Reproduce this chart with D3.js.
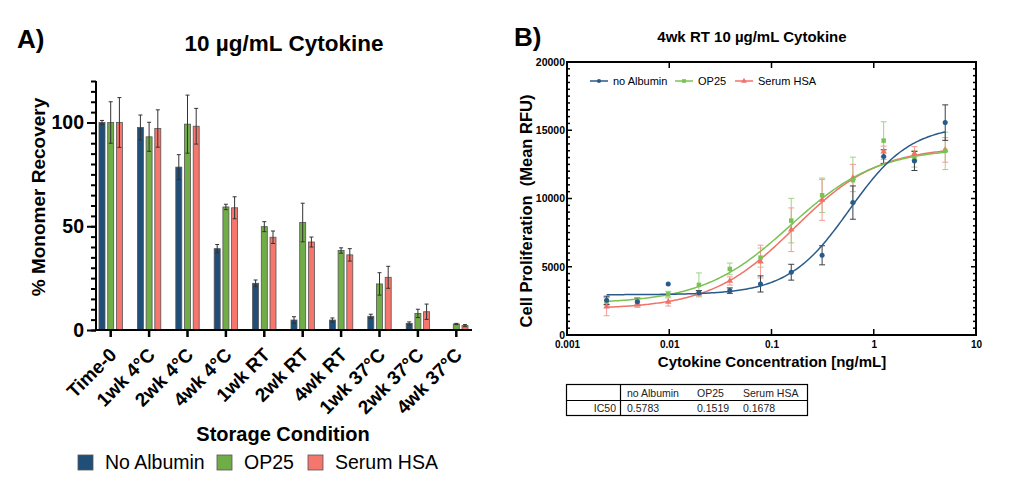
<!DOCTYPE html>
<html>
<head>
<meta charset="utf-8">
<script src="https://cdn.jsdelivr.net/npm/d3@7"></script>
<style>
  html, body { margin: 0; padding: 0; background: #fff; }
  svg { display: block; font-family: Arial, "Liberation Sans", sans-serif; }
</style>
</head>
<body>
<svg id="chart" width="1024" height="499"></svg>
<script>
// ---------- Panel A data ----------
const categories = ["Time-0","1wk 4°C","2wk 4°C","4wk 4°C","1wk RT","2wk RT","4wk RT","1wk 37°C","2wk 37°C","4wk 37°C"];
const seriesNames = ["No Albumin","OP25","Serum HSA"];
const noAlbumin    = [100, 97.6, 78.5, 39.2, 22.5, 4.8, 4.8, 6.6, 3.2, null];
const noAlbuminErr = [1, 6, 6, 2, 1.6, 1.6, 1, 1, 0.7, 0];
const op25         = [100, 93.1, 99.2, 59.3, 49.8, 51.8, 38.3, 22.2, 8.0, 2.9];
const op25Err      = [10, 7, 14, 1.3, 2.4, 9.3, 1.3, 5.4, 2, 0.3];
const serumHSA     = [100, 97.1, 98.2, 58.9, 44.7, 42.4, 36.2, 25.4, 8.8, 2.1];
const serumHSAErr  = [12, 9, 8.6, 5.3, 3, 2.4, 3, 5.3, 3.7, 0.5];
const yTicksA = [0, 50, 100];

// ---------- Panel B data ----------
const concentration = [0.00244, 0.00488, 0.00977, 0.0195, 0.0391, 0.0781, 0.156, 0.3125, 0.625, 1.25, 2.5, 5];
const lineNames = ["no Albumin","OP25","Serum HSA"];
const rfuNoAlbumin    = [2540, 2440, 3740, 3100, 3250, 3740, 4600, 5840, 9700, 13070, 12750, 15560];
const rfuNoAlbuminErr = [300, 250, 0, 150, 200, 590, 580, 700, 1220, 500, 700, 1300];
const rfuOP25         = [2440, 2440, 3000, 3670, 4840, 5670, 8380, 10240, 11340, 14240, 12900, 13490];
const rfuOP25Err      = [300, 300, 200, 880, 430, 700, 1630, 1260, 1690, 1380, 600, 1370];
const rfuSerumHSA     = [2080, 2220, 2420, 3060, 3960, 5380, 7710, 9900, 11500, 13440, 13300, 13560];
const rfuSerumHSAErr  = [670, 200, 300, 200, 300, 1200, 1600, 1500, 1000, 400, 500, 900];
// 4-parameter logistic fit parameters
const fitBottom = [2950, 2300, 1900];
const fitTop    = [15400, 13700, 13800];
const ic50      = [0.5783, 0.1519, 0.1678];
const fitHill   = [1.45, 1.02, 1.06];
const xTicksB = [0.001, 0.01, 0.1, 1, 10];
const yTicksB = [0, 5000, 10000, 15000, 20000];

const colorsA = ["#1F4E79", "#70AD47", "#F4766D"];
const colorsB = ["#2A5A8A", "#7AC254", "#EF7268"];
const FONT = "Arial, 'Liberation Sans', sans-serif";

const svg = d3.select("#chart");
svg.append("rect").attr("width", 1024).attr("height", 499).attr("fill", "#fff");

// ================= Panel A =================
const gA = svg.append("g");
gA.append("text").attr("x", 17).attr("y", 48).attr("font-size", 26).attr("font-weight", "bold").text("A)");
gA.append("text").attr("x", 284).attr("y", 51).attr("text-anchor", "middle")
  .attr("font-size", 22.5).attr("font-weight", "bold").text("10 µg/mL Cytokine");

const yA = d3.scaleLinear().domain([0, 120]).range([330, 81]);
const xA = d3.scaleBand().domain(categories).range([91.5, 475.5]);
const off = 8.7, bw = 6;

// minor ticks
gA.append("g").attr("transform", "translate(96,0)")
  .call(d3.axisLeft(yA).tickValues(d3.range(0, 121, 5)).tickSize(5).tickFormat(""))
  .call(g => g.select(".domain").remove())
  .call(g => g.selectAll("line").attr("stroke", "#000").attr("stroke-width", 2));
// major ticks
gA.append("g").attr("transform", "translate(96,0)")
  .call(d3.axisLeft(yA).tickValues(yTicksA).tickSize(9).tickPadding(3))
  .call(g => g.select(".domain").remove())
  .call(g => g.selectAll("line").attr("stroke", "#000").attr("stroke-width", 2))
  .call(g => g.selectAll("text").attr("font-size", 19.5).attr("font-weight", "bold")
    .attr("font-family", FONT).attr("fill", "#000"));
gA.append("line").attr("x1", 96).attr("x2", 96).attr("y1", yA(120)).attr("y2", 331)
  .attr("stroke", "#000").attr("stroke-width", 2);

const seriesA = [
  {vals: noAlbumin, errs: noAlbuminErr},
  {vals: op25, errs: op25Err},
  {vals: serumHSA, errs: serumHSAErr}
];
seriesA.forEach((s, si) => {
  const recs = categories.map((c, i) => ({c, v: s.vals[i], e: s.errs[i]})).filter(d => d.v !== null);
  const cx = d => xA(d.c) + xA.bandwidth() / 2 + (si - 1) * off;
  gA.append("g").selectAll("rect").data(recs).join("rect")
    .attr("x", d => cx(d) - bw / 2).attr("width", bw)
    .attr("y", d => yA(d.v)).attr("height", d => yA(0) - yA(d.v))
    .attr("fill", colorsA[si]).attr("stroke", "#555").attr("stroke-width", 0.8);
  const eg = gA.append("g").attr("stroke", "#333").attr("stroke-width", 1);
  recs.filter(d => d.e > 0).forEach(d => {
    const x = cx(d);
    eg.append("line").attr("x1", x).attr("x2", x).attr("y1", yA(d.v + d.e)).attr("y2", yA(d.v - d.e));
    eg.append("line").attr("x1", x - 2).attr("x2", x + 2).attr("y1", yA(d.v + d.e)).attr("y2", yA(d.v + d.e));
    eg.append("line").attr("x1", x - 2).attr("x2", x + 2).attr("y1", yA(d.v - d.e)).attr("y2", yA(d.v - d.e));
  });
});

// x axis A
const xAxisA = gA.append("g").attr("transform", "translate(0,330)")
  .call(d3.axisBottom(xA).tickSize(7).tickPadding(3))
  .call(g => g.select(".domain").remove())
  .call(g => g.selectAll("line").attr("stroke", "#000").attr("stroke-width", 2.5));
xAxisA.selectAll("text")
  .attr("font-size", 19).attr("font-weight", "bold").attr("fill", "#000")
  .attr("font-family", FONT)
  .attr("text-anchor", "end").attr("x", 0).attr("y", 0).attr("dy", "0")
  .attr("transform", "translate(7,26) rotate(-45)");
gA.append("line").attr("x1", 95).attr("x2", 472).attr("y1", 330).attr("y2", 330)
  .attr("stroke", "#000").attr("stroke-width", 2);

gA.append("text").attr("transform", "translate(45,197) rotate(-90)")
  .attr("text-anchor", "middle").attr("font-size", 19).attr("font-weight", "bold")
  .text("% Monomer Recovery");
gA.append("text").attr("x", 283).attr("y", 441).attr("text-anchor", "middle")
  .attr("font-size", 20).attr("font-weight", "bold").text("Storage Condition");

// legend A
const legA = [78, 217, 308];
seriesNames.forEach((n, i) => {
  gA.append("rect").attr("x", legA[i]).attr("y", 455).attr("width", 15).attr("height", 15)
    .attr("fill", colorsA[i]).attr("stroke", "#555").attr("stroke-width", 0.8);
  gA.append("text").attr("x", legA[i] + 27).attr("y", 469).attr("font-size", 19.5).text(n);
});

// ================= Panel B =================
const gB = svg.append("g");
gB.append("text").attr("x", 514).attr("y", 46).attr("font-size", 26).attr("font-weight", "bold").text("B)");
gB.append("text").attr("x", 752).attr("y", 42).attr("text-anchor", "middle")
  .attr("font-size", 15).attr("font-weight", "bold").text("4wk RT 10 µg/mL Cytokine");

const xB = d3.scaleLog().domain([0.001, 10]).range([567, 976]);
const yB = d3.scaleLinear().domain([0, 20000]).range([335, 62]);

// ticks
const minorY = d3.range(0, 20001, 500);
const tickG = gB.append("g").attr("stroke", "#000").attr("stroke-width", 1.5);
minorY.forEach(v => {
  const len = v % 5000 === 0 ? 5 : 3;
  tickG.append("line").attr("x1", 567).attr("x2", 567 + len).attr("y1", yB(v)).attr("y2", yB(v));
  tickG.append("line").attr("x1", 976).attr("x2", 976 - len).attr("y1", yB(v)).attr("y2", yB(v));
});
xTicksB.forEach(v => {
  tickG.append("line").attr("x1", xB(v)).attr("x2", xB(v)).attr("y1", 335).attr("y2", 329);
  tickG.append("line").attr("x1", xB(v)).attr("x2", xB(v)).attr("y1", 62).attr("y2", 68);
});
gB.append("rect").attr("x", 567).attr("y", 62).attr("width", 409).attr("height", 273)
  .attr("fill", "none").attr("stroke", "#000").attr("stroke-width", 2);

gB.append("g").attr("transform", "translate(567,0)")
  .call(d3.axisLeft(yB).tickValues(yTicksB).tickSize(0).tickPadding(2).tickFormat(d3.format("d")))
  .call(g => g.select(".domain").remove())
  .call(g => g.selectAll("text").attr("font-size", 10.5).attr("font-weight", "bold").attr("fill", "#000")
    .attr("font-family", FONT));
gB.append("g").attr("transform", "translate(0,335)")
  .call(d3.axisBottom(xB).tickValues(xTicksB).tickSize(0).tickPadding(6).tickFormat(d => String(d)))
  .call(g => g.select(".domain").remove())
  .call(g => g.selectAll("text").attr("font-size", 10).attr("font-weight", "bold").attr("fill", "#000")
    .attr("font-family", FONT));

gB.append("text").attr("transform", "translate(532,211) rotate(-90)")
  .attr("text-anchor", "middle").attr("font-size", 16.5).attr("font-weight", "bold")
  .attr("xml:space", "preserve").style("white-space", "pre")
  .text("Cell Proliferation  (Mean RFU)");
gB.append("text").attr("x", 772).attr("y", 367).attr("text-anchor", "middle")
  .attr("font-size", 15).attr("font-weight", "bold").text("Cytokine Concentration [ng/mL]");

const seriesB = [
  {vals: rfuNoAlbumin, errs: rfuNoAlbuminErr, shape: d3.symbolCircle, errColor: "#3a3f48"},
  {vals: rfuOP25, errs: rfuOP25Err, shape: d3.symbolSquare, errColor: "#9fd486"},
  {vals: rfuSerumHSA, errs: rfuSerumHSAErr, shape: d3.symbolTriangle, errColor: "#f29d95"}
];
// error bars first
[1, 2, 0].forEach(si => {
  const s = seriesB[si];
  const eg = gB.append("g").attr("stroke", s.errColor).attr("stroke-width", 1);
  concentration.forEach((c, i) => {
    const e = s.errs[i];
    if (!e) return;
    const x = xB(c), v = s.vals[i];
    eg.append("line").attr("x1", x).attr("x2", x).attr("y1", yB(v + e)).attr("y2", yB(v - e));
    eg.append("line").attr("x1", x - 3).attr("x2", x + 3).attr("y1", yB(v + e)).attr("y2", yB(v + e));
    eg.append("line").attr("x1", x - 3).attr("x2", x + 3).attr("y1", yB(v - e)).attr("y2", yB(v - e));
  });
});
// fitted curves
const curveX = d3.range(0, 201).map(i => Math.pow(10, Math.log10(concentration[0]) + i / 200 * (Math.log10(concentration[11]) - Math.log10(concentration[0]))));
const line = d3.line().x(d => xB(d[0])).y(d => yB(d[1]));
[2, 1, 0].forEach(si => {
  const pts = curveX.map(x => [x, fitBottom[si] + (fitTop[si] - fitBottom[si]) / (1 + Math.pow(ic50[si] / x, fitHill[si]))]);
  gB.append("path").attr("d", line(pts)).attr("fill", "none").attr("stroke", colorsB[si]).attr("stroke-width", 1.5);
});
// markers
[2, 1, 0].forEach(si => {
  const s = seriesB[si];
  const sym = d3.symbol().type(s.shape).size(si === 2 ? 18 : 20);
  gB.append("g").selectAll("path").data(concentration).join("path")
    .attr("transform", (c, i) => `translate(${xB(c)},${yB(s.vals[i])})`)
    .attr("d", sym).attr("fill", colorsB[si]);
});

// legend B
const legBx = [590, 675, 735];
lineNames.forEach((n, i) => {
  gB.append("line").attr("x1", legBx[i]).attr("x2", legBx[i] + 18).attr("y1", 81).attr("y2", 81)
    .attr("stroke", colorsB[i]).attr("stroke-width", 1.5);
  gB.append("path").attr("transform", `translate(${legBx[i] + 9},81)`)
    .attr("d", d3.symbol().type(seriesB[i].shape).size(14)).attr("fill", colorsB[i]);
  gB.append("text").attr("x", legBx[i] + 23).attr("y", 85).attr("font-size", 11).text(n);
});

// IC50 table
const tableHeaders = ["no Albumin", "OP25", "Serum HSA"];
const tableValues = ["0.5783", "0.1519", "0.1678"];
const tg = gB.append("g");
tg.append("rect").attr("x", 566.5).attr("y", 384.5).attr("width", 241).attr("height", 31)
  .attr("fill", "none").attr("stroke", "#000").attr("stroke-width", 1.2);
tg.append("line").attr("x1", 566.5).attr("x2", 807.5).attr("y1", 400.5).attr("y2", 400.5).attr("stroke", "#000").attr("stroke-width", 1.2);
tg.append("line").attr("x1", 620.5).attr("x2", 620.5).attr("y1", 384.5).attr("y2", 415.5).attr("stroke", "#000").attr("stroke-width", 1.2);
const colX = [627, 697, 743];
tableHeaders.forEach((h, i) => {
  tg.append("text").attr("x", colX[i]).attr("y", 396.5).attr("font-size", 10.5).attr("fill", "#222").text(h);
  tg.append("text").attr("x", colX[i]).attr("y", 412).attr("font-size", 10.5).attr("fill", "#222").text(tableValues[i]);
});
tg.append("text").attr("x", 616).attr("y", 412).attr("text-anchor", "end").attr("font-size", 10.5).attr("fill", "#222").text("IC50");
</script>
</body>
</html>
